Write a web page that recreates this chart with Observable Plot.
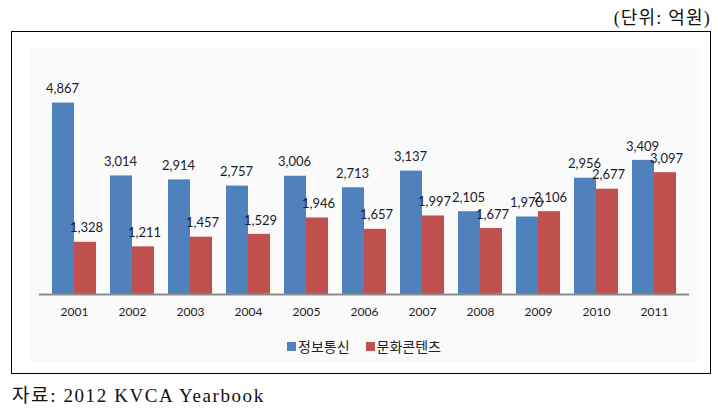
<!DOCTYPE html>
<html>
<head>
<meta charset="utf-8">
<script src="https://cdn.jsdelivr.net/npm/d3@7"></script>
<script src="https://cdn.jsdelivr.net/npm/@observablehq/plot@0.6"></script>
<style>
  html, body { margin: 0; padding: 0; background: #fff; }
  #page { position: relative; width: 721px; height: 413px; overflow: hidden; }
  #title { position: absolute; right: 10px; top: 3px; font-family: "Liberation Serif", "Noto Sans CJK KR", serif; font-size: 18px; letter-spacing: 1.2px; color: #111; white-space: nowrap; }
  #box { position: absolute; left: 11px; top: 31px; width: 700px; height: 343px; border: 1.5px solid #000; box-sizing: border-box; }
  #inner { position: absolute; left: 29px; top: 47px; width: 671px; height: 315px; background: #fafafa; }
  #chart { position: absolute; left: 0; top: 0; }
  #legend { position: absolute; left: 287px; top: 336px; font-family: "Noto Sans CJK KR", sans-serif; font-size: 14px; color: #222; display: flex; align-items: center; white-space: nowrap; }
  #legend .item { display: flex; align-items: center; margin-right: 16px; }
  #legend .sw { width: 9px; height: 9px; margin-right: 2px; }
  #caption { position: absolute; left: 12px; top: 380px; font-family: "Liberation Serif", "Noto Sans CJK KR", serif; font-size: 19px; letter-spacing: 1.6px; color: #111; white-space: nowrap; }
</style>
</head>
<body>
<div id="page">
  <div id="title">(단위: 억원)</div>
  <div id="box"></div>
  <div id="inner"></div>
  <div id="chart"></div>
  <div id="legend"></div>
  <div id="caption">자료: 2012 KVCA Yearbook</div>
</div>
<script>
const years = ["2001", "2002", "2003", "2004", "2005", "2006", "2007", "2008", "2009", "2010", "2011"];
const ictValues = [4867, 3014, 2914, 2757, 3006, 2713, 3137, 2105, 1970, 2956, 3409];
const cultureValues = [1328, 1211, 1457, 1529, 1946, 1657, 1997, 1677, 2106, 2677, 3097];
const seriesNames = ["정보통신", "문화콘텐츠"];
const seriesColors = ["#4F81BD", "#C0504D"];

const ictRows = years.map((year, i) => ({year, value: ictValues[i]}));
const cultureRows = years.map((year, i) => ({year, value: cultureValues[i]}));
const fmt = d3.format(",");

const chart = Plot.plot({
  width: 721,
  height: 330,
  marginLeft: 39,
  marginRight: 32,
  marginTop: 58,
  marginBottom: 36,
  style: {background: "transparent", fontFamily: "Lato, 'Open Sans', sans-serif", fontSize: "12px", color: "#222", overflow: "visible"},
  x: {domain: years, paddingInner: 0.25, paddingOuter: 0.156, tickSize: 0, tickPadding: 13, label: null},
  y: {domain: [0, 6000], axis: null},
  marks: [
    Plot.barY(ictRows, {x: "year", y: "value", fill: seriesColors[0], insetRight: 22}),
    Plot.barY(cultureRows, {x: "year", y: "value", fill: seriesColors[1], insetLeft: 22}),
    Plot.ruleY([0], {stroke: "#8c8c8c", strokeWidth: 2}),
    Plot.text(ictRows, {x: "year", y: "value", text: d => fmt(d.value), dx: -12, dy: -14, fill: "#1c1c2c", fontSize: 13}),
    Plot.text(cultureRows, {x: "year", y: "value", text: d => fmt(d.value), dx: 12, dy: -14, fill: "#1c1c2c", fontSize: 13})
  ]
});
document.getElementById("chart").appendChild(chart);

const legend = document.getElementById("legend");
seriesNames.forEach((name, i) => {
  const item = document.createElement("div");
  item.className = "item";
  const sw = document.createElement("span");
  sw.className = "sw";
  sw.style.background = seriesColors[i];
  const label = document.createElement("span");
  label.textContent = name;
  item.appendChild(sw);
  item.appendChild(label);
  legend.appendChild(item);
});
</script>
</body>
</html>
